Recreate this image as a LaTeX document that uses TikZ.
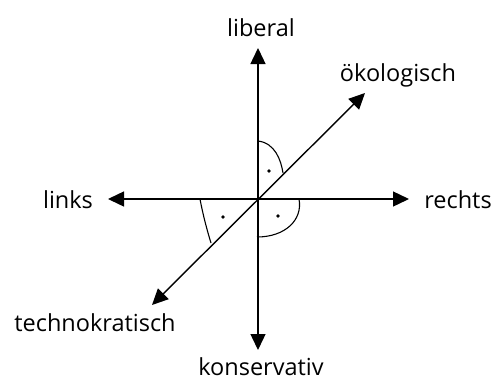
\documentclass[tikz,border=0pt]{standalone}
\usepackage{fontspec}
\setmainfont{Open Sans}
\usetikzlibrary{arrows.meta,positioning}

\begin{document}
\begin{tikzpicture}[x=1pt,y=-1pt,
  achse/.style={line width=1.4pt,{Triangle[length=16pt,width=15pt]}-{Triangle[length=16pt,width=15pt]}},
  winkel/.style={line width=1.1pt},
  beschr/.style={font=\fontsize{23.5}{28}\selectfont,inner sep=0pt}]
  \useasboundingbox (0,0) rectangle (496,381);
  % Achsen
  \coordinate (m) at (258,199);
  \coordinate (oben) at (258,48);
  \coordinate (unten) at (258,350);
  \coordinate (li) at (108,199);
  \coordinate (re) at (409,199);
  \coordinate (oe) at (365,93);
  \coordinate (te) at (152,305);
  \draw[achse] (unten) -- (oben);
  \draw[achse] (li) -- (re);
  \draw[achse] (te) -- (oe);
  % Beschriftungen
  \node[beschr] (lib) at (261,28) {liberal};
  \node[beschr] (kon) at (261,367) {konservativ};
  \node[beschr] (lin) at (68,200) {links};
  \node[beschr] (rec) at (458,200) {rechts};
  \node[beschr] (oek) at (398,75) {ökologisch};
  \node[beschr] (tec) at (95,323) {technokratisch};
  % rechte Winkel
  \draw[winkel] (258,141) .. controls (275,143) and (281,160) .. (283,173);
  \fill (269,171) circle (1.8);
  \draw[winkel] (299,199) .. controls (303,220) and (285,237) .. (257,237);
  \fill (278,216) circle (1.8);
  \draw[winkel] (200,199) .. controls (203,215) and (207,230) .. (211,243);
  \fill (223,217) circle (1.8);
\end{tikzpicture}
\end{document}
